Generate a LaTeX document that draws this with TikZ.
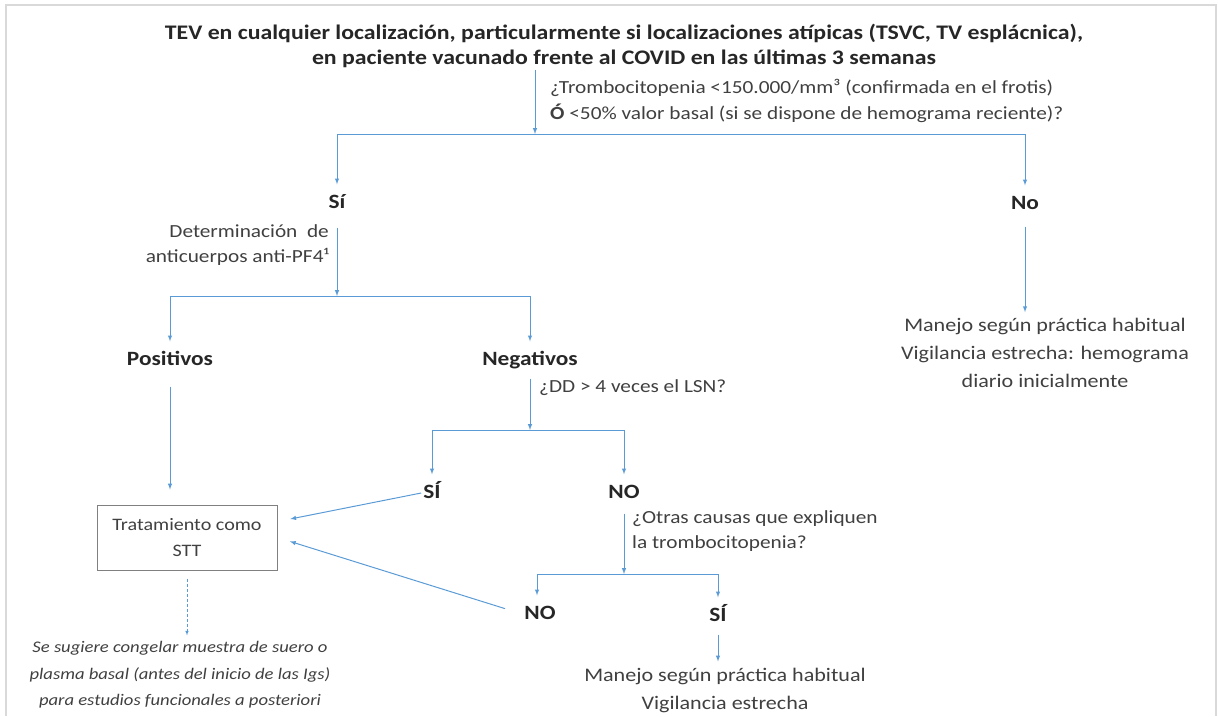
\documentclass[tikz,border=0pt]{standalone}
\usepackage{fontspec}
\setmainfont{Carlito}[FakeStretch=1.15]
\definecolor{flowblue}{HTML}{5B9BD5}
\definecolor{textgray}{HTML}{404040}
\definecolor{boldgray}{HTML}{262626}

\begin{document}
\begin{tikzpicture}[
  x=1pt, y=-1pt,
  every node/.style={text=textgray, align=center, inner sep=2pt},
  head/.style={font=\fontsize{20.7}{25}\selectfont\bfseries, text=boldgray},
  answer/.style={font=\fontsize{20.3}{24}\selectfont\bfseries, text=boldgray,
    text height=14pt, text depth=3pt, inner ysep=10pt},
  question/.style={font=\fontsize{18.5}{25.5}\selectfont, align=left, anchor=west},
  result/.style={font=\fontsize{19.2}{28}\selectfont, inner ysep=6pt},
  note/.style={font=\fontsize{16.2}{26.5}\selectfont\itshape, inner ysep=6pt},
  stt box/.style={draw=gray, line width=1pt, minimum width=180pt,
    minimum height=65pt, font=\fontsize{17.5}{26}\selectfont},
  link/.style={draw=flowblue, line width=1pt},
  flow/.style={link, -latex}
]
\useasboundingbox (0,0) rectangle (1218,716);
\draw[gray!30, line width=2pt] (6,716) -- (6,5) -- (1216,5) -- (1216,716);

% titulo y primera pregunta
\node[head] (tev) at (624,46) {TEV en cualquier localización, particularmente si localizaciones atípicas (TSVC, TV esplácnica),\\
  en paciente vacunado frente al COVID en las últimas 3 semanas};
\node[question] (trombo) at (548,101) {¿Trombocitopenia <150.000/mm³ (confirmada en el frotis)\\
  \textbf{Ó} <50\% valor basal (si se dispone de hemograma reciente)?};
\coordinate (split1) at (535,134);

\node[answer] (si) at (337,203) {Sí};
\node[answer] (no) at (1025,204) {No};

\draw[flow] (tev.south -| split1) -- (split1);
\draw[link] (si |- split1) -- (no |- split1);
\draw[flow] (si |- split1) -- (si);
\draw[flow] (no |- split1) -- (no);

% rama no
\node[result] (habitual) at (1045,353) {Manejo según práctica habitual\\
  Vigilancia estrecha: hemograma\\ diario inicialmente};
\draw[flow, shorten <=4pt] (no) -- (no |- habitual.north);

% rama si
\node[question, align=right, anchor=east] (pf4) at (331,245) {Determinación\ \ de\\ anticuerpos anti-PF4¹};
\coordinate (split2) at (337,296);
\draw[flow, shorten <=6pt] (si) -- (split2);

\node[answer] (positivos) at (170,360) {Positivos};
\node[answer] (negativos) at (530,360) {Negativos};
\draw[link] (positivos |- split2) -- (negativos |- split2);
\draw[flow] (positivos |- split2) -- (positivos);
\draw[flow] (negativos |- split2) -- (negativos);

\node[stt box] (stt) at (187,537.5) {Tratamiento como\\ STT};
\draw[flow, shorten <=8pt, shorten >=15pt] (positivos) -- (positivos |- stt.north);

% dimero D
\node[question] (dd) at (537,388) {¿DD > 4 veces el LSN?};
\coordinate (split3) at (530,430);
\draw[flow] (negativos) -- (split3);

\node[answer] (si2) at (432,493) {SÍ};
\node[answer] (no2) at (624,493) {NO};
\draw[link] (si2 |- split3) -- (no2 |- split3);
\draw[flow] (si2 |- split3) -- (si2);
\draw[flow] (no2 |- split3) -- (no2);
\draw[flow, shorten >=13pt] (si2.west) -- (stt.10);

% otras causas
\node[question] (causas) at (630,531) {¿Otras causas que expliquen\\ la trombocitopenia?};
\coordinate (split4) at (624,574);
\draw[flow, shorten <=2pt] (no2) -- (split4);

\node[answer] (no3) at (540,614) {NO};
\node[answer] (si3) at (718,616) {SÍ};
\draw[link] ([xshift=-3pt]no3 |- split4) -- (si3 |- split4);
\draw[flow] ([xshift=-3pt]no3 |- split4) -- ([xshift=-3pt]no3.north);
\draw[flow] (si3 |- split4) -- (si3);
\draw[flow, shorten <=18pt, shorten >=13pt] (no3.west) -- (stt.east);

\node[result] (vigilancia) at (725,690) {Manejo según práctica habitual\\ Vigilancia estrecha};
\draw[flow] (si3) -- (si3 |- vigilancia.north);

% muestra basal
\node[note] (suero) at (180,675) {Se sugiere congelar muestra de suero o\\
  plasma basal (antes del inicio de las Igs)\\ para estudios funcionales a posteriori};
\draw[flow, densely dashed, line width=0.6pt, shorten <=8pt]
  (stt.south) -- (stt.south |- suero.north);

\end{tikzpicture}
\end{document}
